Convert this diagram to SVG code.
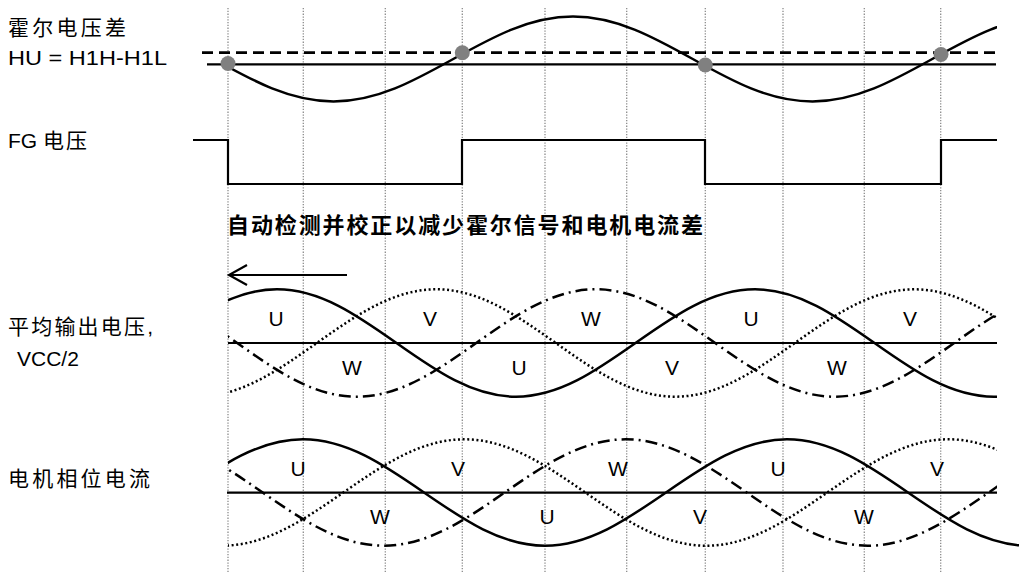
<svg xmlns="http://www.w3.org/2000/svg" xmlns:xlink="http://www.w3.org/1999/xlink" width="1019" height="573" viewBox="0 0 1019 573">
<style>
.lbl{font-family:"Liberation Sans","Noto Sans CJK SC",sans-serif;font-size:21px;fill:#000}
.ph{font-family:"Liberation Sans",sans-serif;font-size:21px;fill:#000;text-anchor:middle}
.head{font-family:"Liberation Sans","Noto Sans CJK SC",sans-serif;font-size:22px;font-weight:bold;fill:#000}
.grid{stroke:#8c8c8c;stroke-width:1.3;stroke-dasharray:1.3 1.5;fill:none}
.solid{stroke:#000;stroke-width:2.5;fill:none}
.axis{stroke:#000;stroke-width:2.2;fill:none}
.dash{stroke:#000;stroke-width:2.8;fill:none;stroke-dasharray:11 6}
.dot{stroke:#000;stroke-width:2.5;fill:none;stroke-dasharray:2 2.6}
.dd{stroke:#000;stroke-width:2.5;fill:none;stroke-dasharray:12 5 2 5}
.mark{fill:#808080}
</style>
<defs>
<path id="waveMid" d="M0,0 c38.97,27.51 76.25,53.7 119.5,53.7 s80.53,-26.19 119.5,-53.7 s76.25,-53.7 119.5,-53.7 s80.53,26.19 119.5,53.7 s76.25,53.7 119.5,53.7 s80.53,-26.19 119.5,-53.7 s76.25,-53.7 119.5,-53.7 s80.53,26.19 119.5,53.7 s76.25,53.7 119.5,53.7 s80.53,-26.19 119.5,-53.7 s76.25,-53.7 119.5,-53.7 s80.53,26.19 119.5,53.7"/>
<path id="waveBot" d="M0,0 c39.46,27.25 77.21,53.2 121,53.2 s81.54,-25.95 121,-53.2 s77.21,-53.2 121,-53.2 s81.54,25.95 121,53.2 s77.21,53.2 121,53.2 s81.54,-25.95 121,-53.2 s77.21,-53.2 121,-53.2 s81.54,25.95 121,53.2 s77.21,53.2 121,53.2 s81.54,-25.95 121,-53.2 s77.21,-53.2 121,-53.2 s81.54,25.95 121,53.2"/>
<clipPath id="clipTop"><rect x="228" y="0" width="769" height="120"/></clipPath>
<clipPath id="clipMid"><rect x="228" y="280" width="769" height="125"/></clipPath>
<clipPath id="clipBot"><rect x="228" y="430" width="769" height="125"/></clipPath>
<clipPath id="clipBotU"><rect x="228" y="430" width="791" height="125"/></clipPath>
</defs>

<g id="grid">
<line class="grid" x1="228" y1="8" x2="228" y2="572"/>
<line class="grid" x1="303.3" y1="8" x2="303.3" y2="572"/>
<line class="grid" x1="385.3" y1="8" x2="385.3" y2="572"/>
<line class="grid" x1="462.3" y1="8" x2="462.3" y2="572"/>
<line class="grid" x1="545" y1="8" x2="545" y2="572"/>
<line class="grid" x1="626.7" y1="8" x2="626.7" y2="572"/>
<line class="grid" x1="705.3" y1="8" x2="705.3" y2="572"/>
<line class="grid" x1="783" y1="8" x2="783" y2="572"/>
<line class="grid" x1="864.3" y1="8" x2="864.3" y2="572"/>
<line class="grid" x1="940.7" y1="8" x2="940.7" y2="572"/>
</g>

<g id="labels">
<text class="lbl" x="8" y="35" textLength="118" lengthAdjust="spacing">霍尔电压差</text>
<text class="lbl" x="8" y="65" textLength="159" lengthAdjust="spacingAndGlyphs">HU = H1H-H1L</text>
<text class="lbl" x="8" y="148">FG <tspan letter-spacing="2">电压</tspan></text>
<text class="lbl" x="8" y="334" textLength="145" lengthAdjust="spacing">平均输出电压,</text>
<text class="lbl" x="17" y="366">VCC/2</text>
<text class="lbl" x="8" y="486" textLength="142" lengthAdjust="spacing">电机相位电流</text>
<text class="head" x="227" y="233" textLength="476" lengthAdjust="spacing">自动检测并校正以减少霍尔信号和电机电流差</text>
</g>

<g id="hall-voltage">
<line class="dash" x1="202" y1="52.7" x2="996" y2="52.7"/>
<line class="axis" x1="207" y1="64.3" x2="996" y2="64.3"/>
<path class="solid" clip-path="url(#clipTop)" d="M213.75,59 c39.06,21.75 76.41,42.45 119.75,42.45 s80.70,-20.70 119.75,-42.45 s76.41,-42.45 119.75,-42.45 s80.70,20.70 119.75,42.45 s76.41,42.45 119.75,42.45 s80.70,-20.70 119.75,-42.45 s76.41,-42.45 119.75,-42.45 s80.70,20.70 119.75,42.45"/>
<circle class="mark" cx="228" cy="63.5" r="7.5"/>
<circle class="mark" cx="462.3" cy="52.7" r="7.5"/>
<circle class="mark" cx="705.3" cy="65" r="7.5"/>
<circle class="mark" cx="941" cy="54.5" r="7.5"/>
</g>

<g id="fg-voltage">
<polyline class="axis" points="193,140 228,140 228,184 462,184 462,140 705,140 705,184 941,184 941,140 997,140"/>
</g>

<g id="connectors">
<line class="axis" x1="229" y1="275" x2="347" y2="275"/>
<polyline class="axis" points="247,265 229,275 247,285"/>
</g>

<g id="phase-voltage">
<line class="axis" x1="228" y1="343" x2="997" y2="343"/>
<g clip-path="url(#clipMid)">
<use xlink:href="#waveMid" class="solid" x="-81.5" y="343"/>
<use xlink:href="#waveMid" class="dot" x="-400.2" y="343"/>
<use xlink:href="#waveMid" class="dd" x="-240.8" y="343"/>
</g>
<text class="ph" x="276" y="326">U</text>
<text class="ph" x="430" y="326">V</text>
<text class="ph" x="591" y="326">W</text>
<text class="ph" x="751" y="326">U</text>
<text class="ph" x="910" y="326">V</text>
<text class="ph" x="352" y="375">W</text>
<text class="ph" x="519" y="375">U</text>
<text class="ph" x="672" y="375">V</text>
<text class="ph" x="837" y="375">W</text>
</g>

<g id="phase-current">
<line class="axis" x1="227" y1="492.7" x2="997" y2="492.7"/>
<g clip-path="url(#clipBotU)">
<use xlink:href="#waveBot" class="solid" x="-60" y="492.5"/>
</g>
<g clip-path="url(#clipBot)">
<use xlink:href="#waveBot" class="dot" x="-382.7" y="492.5"/>
<use xlink:href="#waveBot" class="dd" x="-221.3" y="492.5"/>
</g>
<text class="ph" x="298" y="476">U</text>
<text class="ph" x="458" y="476">V</text>
<text class="ph" x="618" y="476">W</text>
<text class="ph" x="778" y="476">U</text>
<text class="ph" x="937" y="476">V</text>
<text class="ph" x="380" y="524">W</text>
<text class="ph" x="547" y="524">U</text>
<text class="ph" x="700" y="524">V</text>
<text class="ph" x="864" y="524">W</text>
</g>
</svg>
